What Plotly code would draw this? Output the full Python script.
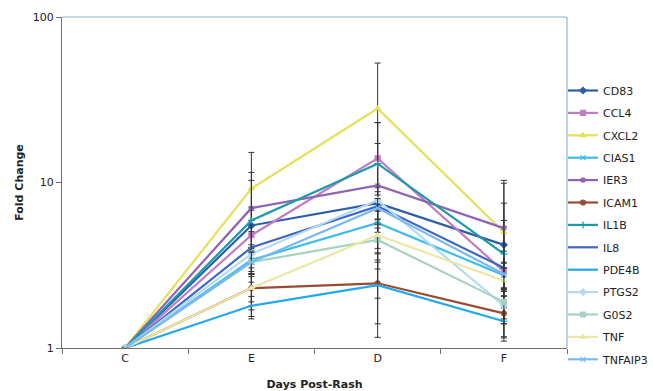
import plotly.graph_objects as go

categories = ["C", "E", "D", "F"]

genes = ["CD83", "CCL4", "CXCL2", "CIAS1", "IER3", "ICAM1", "IL1B", "IL8",
         "PDE4B", "PTGS2", "G0S2", "TNF", "TNFAIP3"]

CD83 = [1, 5.5, 7.5, 4.2]
CCL4 = [1, 4.8, 14.0, 2.9]
CXCL2 = [1, 9.2, 28.0, 5.0]
CIAS1 = [1, 3.4, 5.7, 2.75]
IER3 = [1, 7.0, 9.6, 5.3]
ICAM1 = [1, 2.3, 2.46, 1.62]
IL1B = [1, 5.9, 13.0, 3.7]
IL8 = [1, 4.05, 7.2, 3.05]
PDE4B = [1, 1.8, 2.4, 1.45]
PTGS2 = [1, 3.7, 7.8, 1.8]
G0S2 = [1, 3.3, 4.5, 1.9]
TNF = [1, 2.3, 4.8, 2.55]
TNFAIP3 = [1, 3.3, 7.0, 2.8]

# error bar half-widths (upper, lower)
err_up = {
    "CD83": [0, 1.6, 1.8, 1.2], "CCL4": [0, 2.0, 9.0, 3.0], "CXCL2": [0, 6.0, 24.7, 5.3],
    "CIAS1": [0, 0.6, 1.0, 0.5], "IER3": [0, 4.5, 7.6, 4.6], "ICAM1": [0, 0.6, 1.3, 0.45],
    "IL1B": [0, 4.4, 10.0, 3.8], "IL8": [0, 1.0, 1.2, 0.8], "PDE4B": [0, 0.25, 1.0, 0.3],
    "PTGS2": [0, 0.5, 1.0, 0.4], "G0S2": [0, 0.5, 0.8, 0.4], "TNF": [0, 0.4, 0.8, 0.5],
    "TNFAIP3": [0, 0.5, 1.0, 0.5],
}
err_down = {
    "CD83": [0, 1.6, 1.8, 1.2], "CCL4": [0, 2.0, 9.0, 1.5], "CXCL2": [0, 6.0, 24.7, 3.9],
    "CIAS1": [0, 0.6, 1.0, 0.5], "IER3": [0, 4.5, 7.6, 3.0], "ICAM1": [0, 0.6, 1.3, 0.45],
    "IL1B": [0, 4.4, 10.0, 1.5], "IL8": [0, 1.0, 1.2, 0.8], "PDE4B": [0, 0.25, 1.0, 0.3],
    "PTGS2": [0, 0.5, 1.0, 0.4], "G0S2": [0, 0.5, 0.8, 0.4], "TNF": [0, 0.4, 0.8, 0.5],
    "TNFAIP3": [0, 0.5, 1.0, 0.5],
}

values = {"CD83": CD83, "CCL4": CCL4, "CXCL2": CXCL2, "CIAS1": CIAS1, "IER3": IER3,
          "ICAM1": ICAM1, "IL1B": IL1B, "IL8": IL8, "PDE4B": PDE4B, "PTGS2": PTGS2,
          "G0S2": G0S2, "TNF": TNF, "TNFAIP3": TNFAIP3}

colors = {"CD83": "#2a5ea8", "CCL4": "#c27cc4", "CXCL2": "#e6e05a", "CIAS1": "#3cbde8",
          "IER3": "#9062b4", "ICAM1": "#9a4a32", "IL1B": "#1a9aaa", "IL8": "#3e68c4",
          "PDE4B": "#1eaaea", "PTGS2": "#b4daf0", "G0S2": "#a6d2c2", "TNF": "#ebe8a6",
          "TNFAIP3": "#7cb8f0"}

symbols = {"CD83": "diamond", "CCL4": "square", "CXCL2": "triangle-up", "CIAS1": "x-thin-open",
           "IER3": "asterisk-open", "ICAM1": "circle", "IL1B": "cross-thin-open", "IL8": "line-ew-open",
           "PDE4B": "line-ew-open", "PTGS2": "diamond", "G0S2": "square", "TNF": "triangle-up",
           "TNFAIP3": "x-thin-open"}

FONT = "DejaVu Sans, Verdana, sans-serif"

fig = go.Figure()
for g in genes:
    fig.add_trace(go.Scatter(
        x=categories, y=values[g], name=g, mode="lines+markers",
        line=dict(color=colors[g], width=2.2),
        marker=dict(symbol=symbols[g], size=5, color=colors[g],
                    line=dict(color=colors[g], width=1.2)),
        error_y=dict(type="data", symmetric=False, array=err_up[g], arrayminus=err_down[g],
                     color="#333333", thickness=1, width=3),
        legendgroup=g,
    ))

fig.update_layout(
    width=653, height=391,
    margin=dict(l=62, r=86, t=17, b=43, autoexpand=False),
    paper_bgcolor="white", plot_bgcolor="white",
    font=dict(family=FONT, size=11, color="#222222"),
    showlegend=True,
    legend=dict(xref="container", yref="container", x=563/653, y=1-76/391,
                xanchor="left", yanchor="top", font=dict(family=FONT, size=11, color="#222222"),
                tracegroupgap=3.4, itemwidth=30, bgcolor="rgba(0,0,0,0)", maxheight=500),
    xaxis=dict(type="category", categoryorder="array", categoryarray=categories,
               automargin=False,
               showline=True, linecolor="#707070", linewidth=1, ticks="outside",
               tickson="boundaries", ticklen=5, tickcolor="#707070", showgrid=False,
               tickfont=dict(family=FONT, size=11, color="#222222"),
               title=dict(text="<b>Days Post-Rash</b>", standoff=16,
                          font=dict(family=FONT, size=11, color="#222222")),
               range=[-0.5, 3.5]),
    yaxis=dict(type="log", range=[0, 2], tickvals=[1, 10, 100], ticktext=["1", "10", "100"],
               automargin=False,
               showline=True, linecolor="#707070", linewidth=1, ticks="outside", ticklen=5,
               tickcolor="#707070", showgrid=False, zeroline=False,
               tickfont=dict(family=FONT, size=11, color="#222222"),
               title=dict(text="<b>Fold Change</b>", standoff=6,
                          font=dict(family=FONT, size=11, color="#222222"))),
    shapes=[
        dict(type="line", xref="paper", yref="paper", x0=0, x1=1, y0=1, y1=1,
             line=dict(color="#8fb4d2", width=1.2)),
        dict(type="line", xref="paper", yref="paper", x0=1, x1=1, y0=0, y1=1,
             line=dict(color="#8fb4d2", width=1.2)),
    ],
)

fig.write_html("out.html")
